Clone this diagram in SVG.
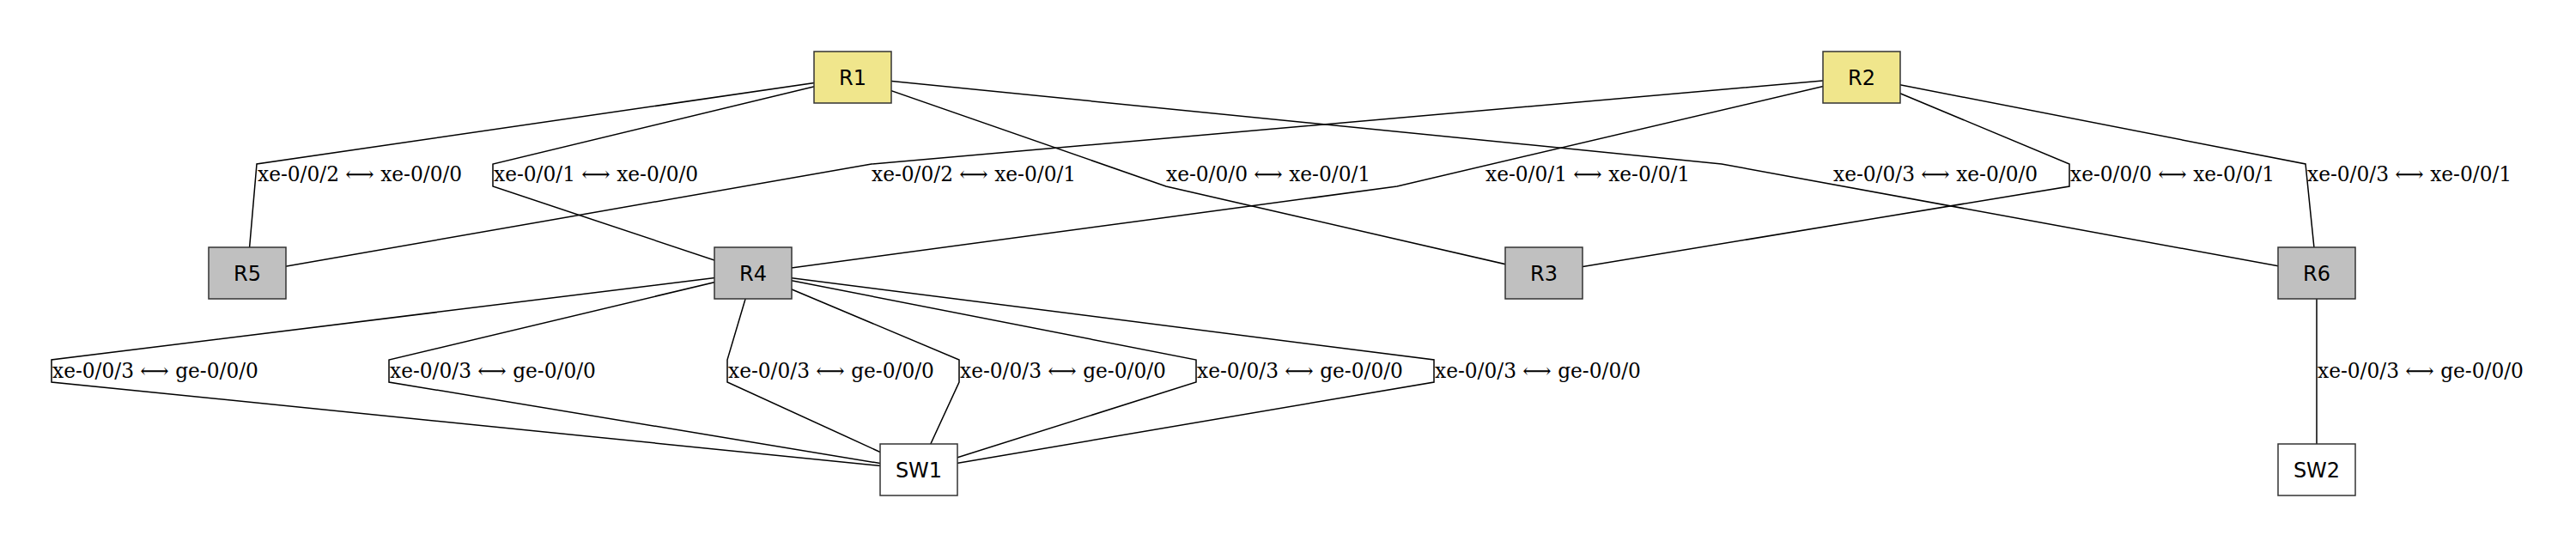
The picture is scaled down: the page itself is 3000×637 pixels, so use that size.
<svg xmlns="http://www.w3.org/2000/svg" width="3000" height="637" viewBox="0 0 3000 637">
<style>
.edge{fill:none;stroke:#000;stroke-width:1.5}
.lbl{font-family:"DejaVu Serif",serif;font-size:23.3px;fill:#000}
.box{stroke:#333;stroke-width:1.5}
.core{fill:#F0E68C}
.rtr{fill:#C0C0C0}
.sw{fill:#FFFFFF}
.nt{font-family:"DejaVu Sans",sans-serif;font-size:24px;fill:#000;text-anchor:middle}
</style>
<rect width="3000" height="637" fill="#fff"/>
<g id="connectors">
<polyline class="edge" points="993,90 299,191 288,318"/>
<polyline class="edge" points="993,90 574,191 574,217 877,318"/>
<polyline class="edge" points="2168,90 1015,191 288,318"/>
<polyline class="edge" points="993,90 1358,217 1798,318"/>
<polyline class="edge" points="2168,90 1627,217 877,318"/>
<polyline class="edge" points="993,90 2005,191 2698,318"/>
<polyline class="edge" points="2168,90 2410,191 2410,217 1798,318"/>
<polyline class="edge" points="2168,90 2685,191 2698,318"/>
<polyline class="edge" points="877,318 60,419 60,445 1070,547"/>
<polyline class="edge" points="877,318 453,419 453,445 1070,547"/>
<polyline class="edge" points="877,318 847,419 847,445 1070,547"/>
<polyline class="edge" points="877,318 1117,419 1117,445 1070,547"/>
<polyline class="edge" points="877,318 1393,419 1393,445 1070,547"/>
<polyline class="edge" points="877,318 1670,419 1670,445 1070,547"/>
<polyline class="edge" points="2698,318 2698,547"/>
</g>
<g id="edge-labels">
<text class="lbl" x="300" y="211">xe-0/0/2 ⟷ xe-0/0/0</text>
<text class="lbl" x="575" y="211">xe-0/0/1 ⟷ xe-0/0/0</text>
<text class="lbl" x="1015" y="211">xe-0/0/2 ⟷ xe-0/0/1</text>
<text class="lbl" x="1358" y="211">xe-0/0/0 ⟷ xe-0/0/1</text>
<text class="lbl" x="1730" y="211">xe-0/0/1 ⟷ xe-0/0/1</text>
<text class="lbl" x="2135" y="211">xe-0/0/3 ⟷ xe-0/0/0</text>
<text class="lbl" x="2411" y="211">xe-0/0/0 ⟷ xe-0/0/1</text>
<text class="lbl" x="2687" y="211">xe-0/0/3 ⟷ xe-0/0/1</text>
<text class="lbl" x="61" y="440">xe-0/0/3 ⟷ ge-0/0/0</text>
<text class="lbl" x="454" y="440">xe-0/0/3 ⟷ ge-0/0/0</text>
<text class="lbl" x="848" y="440">xe-0/0/3 ⟷ ge-0/0/0</text>
<text class="lbl" x="1118" y="440">xe-0/0/3 ⟷ ge-0/0/0</text>
<text class="lbl" x="1394" y="440">xe-0/0/3 ⟷ ge-0/0/0</text>
<text class="lbl" x="1671" y="440">xe-0/0/3 ⟷ ge-0/0/0</text>
<text class="lbl" x="2699" y="440">xe-0/0/3 ⟷ ge-0/0/0</text>
</g>
<g id="R1"><rect class="box core" x="948" y="60" width="90" height="60"/><text class="nt" x="993" y="99">R1</text></g>
<g id="R2"><rect class="box core" x="2123" y="60" width="90" height="60"/><text class="nt" x="2168" y="99">R2</text></g>
<g id="R5"><rect class="box rtr" x="243" y="288" width="90" height="60"/><text class="nt" x="288" y="327">R5</text></g>
<g id="R4"><rect class="box rtr" x="832" y="288" width="90" height="60"/><text class="nt" x="877" y="327">R4</text></g>
<g id="R3"><rect class="box rtr" x="1753" y="288" width="90" height="60"/><text class="nt" x="1798" y="327">R3</text></g>
<g id="R6"><rect class="box rtr" x="2653" y="288" width="90" height="60"/><text class="nt" x="2698" y="327">R6</text></g>
<g id="SW1"><rect class="box sw" x="1025" y="517" width="90" height="60"/><text class="nt" x="1070" y="556">SW1</text></g>
<g id="SW2"><rect class="box sw" x="2653" y="517" width="90" height="60"/><text class="nt" x="2698" y="556">SW2</text></g>
</svg>
